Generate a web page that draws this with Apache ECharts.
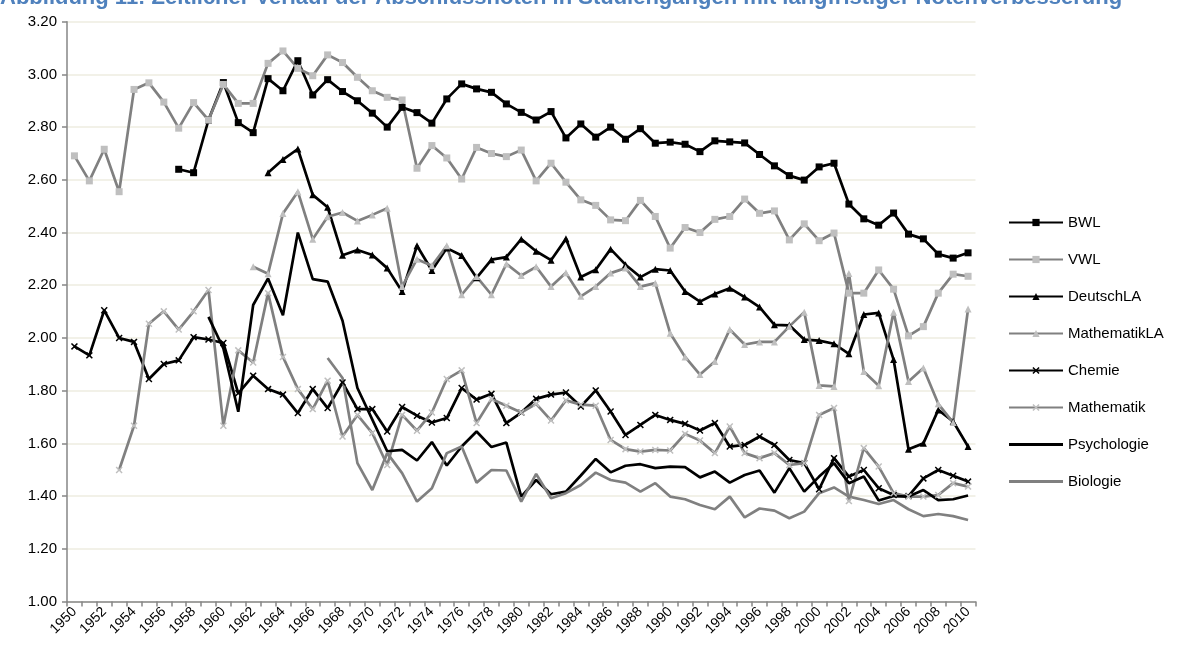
<!DOCTYPE html>
<html><head><meta charset="utf-8">
<script src="https://cdn.jsdelivr.net/npm/echarts@6/dist/echarts.min.js"></script>
<style>html,body{margin:0;padding:0;background:#fff}#c{width:1190px;height:653px}</style>
</head><body><div id="c"></div>
<script>
const titleText = 'Abbildung 11: Zeitlicher Verlauf der Abschlussnoten in Studiengängen mit langfristiger Notenverbesserung';
const years = [];
for (let y = 1950; y <= 2010; y++) years.push(String(y));

// each series: first year and values (one per year until 2010)
const bwlStart = 1957;
const bwl = [2.64,2.627,2.827,2.969,2.817,2.779,2.984,2.938,3.052,2.922,2.98,2.935,2.90,2.853,2.80,2.875,2.855,2.815,2.907,2.964,2.945,2.932,2.888,2.856,2.827,2.859,2.759,2.812,2.762,2.80,2.754,2.794,2.739,2.743,2.735,2.707,2.748,2.744,2.740,2.696,2.653,2.616,2.599,2.649,2.663,2.508,2.452,2.428,2.474,2.394,2.376,2.318,2.303,2.323];
const vwlStart = 1950;
const vwl = [2.691,2.596,2.716,2.555,2.943,2.968,2.895,2.796,2.893,2.827,2.962,2.89,2.89,3.042,3.089,3.023,2.995,3.074,3.045,2.989,2.938,2.913,2.903,2.644,2.73,2.683,2.603,2.723,2.70,2.688,2.713,2.596,2.663,2.591,2.524,2.503,2.448,2.445,2.522,2.461,2.341,2.419,2.40,2.45,2.461,2.527,2.473,2.482,2.372,2.433,2.369,2.398,2.17,2.17,2.258,2.185,2.008,2.043,2.17,2.242,2.234];
const deutschLAStart = 1963;
const deutschLA = [2.627,2.677,2.717,2.543,2.496,2.314,2.334,2.315,2.265,2.176,2.35,2.256,2.341,2.313,2.228,2.297,2.307,2.375,2.329,2.295,2.376,2.231,2.259,2.337,2.278,2.231,2.261,2.256,2.176,2.138,2.167,2.189,2.155,2.117,2.05,2.048,1.994,1.99,1.978,1.94,2.089,2.095,1.918,1.578,1.60,1.727,1.683,1.588];
const mathematikLAStart = 1962;
const mathematikLA = [2.27,2.244,2.472,2.555,2.375,2.46,2.476,2.444,2.467,2.492,2.195,2.299,2.274,2.35,2.164,2.233,2.164,2.281,2.237,2.27,2.195,2.247,2.158,2.195,2.246,2.265,2.195,2.208,2.018,1.928,1.861,1.911,2.032,1.975,1.985,1.985,2.044,2.098,1.82,1.816,2.245,1.873,1.819,2.098,1.835,1.886,1.75,1.679,2.11];
const chemieStart = 1950;
const chemie = [1.968,1.934,2.105,2.0,1.985,1.844,1.901,1.915,2.003,1.994,1.981,1.79,1.857,1.806,1.785,1.715,1.806,1.734,1.831,1.73,1.73,1.645,1.738,1.705,1.679,1.696,1.81,1.766,1.788,1.677,1.717,1.769,1.785,1.793,1.74,1.801,1.721,1.632,1.67,1.708,1.689,1.674,1.649,1.677,1.588,1.594,1.626,1.594,1.537,1.525,1.426,1.544,1.474,1.499,1.43,1.404,1.40,1.467,1.499,1.477,1.455];
const mathematikStart = 1953;
const mathematik = [1.499,1.667,2.054,2.101,2.032,2.101,2.182,1.667,1.953,1.907,2.17,1.928,1.806,1.73,1.838,1.626,1.708,1.639,1.518,1.708,1.648,1.717,1.844,1.877,1.677,1.768,1.743,1.717,1.75,1.687,1.763,1.747,1.743,1.613,1.578,1.569,1.575,1.573,1.636,1.611,1.563,1.664,1.563,1.544,1.563,1.518,1.525,1.708,1.734,1.381,1.582,1.512,1.411,1.398,1.398,1.404,1.449,1.436];
const psychologieStart = 1959;
const psychologie = [2.08,1.96,1.72,2.125,2.226,2.086,2.40,2.223,2.214,2.065,1.81,1.69,1.57,1.575,1.535,1.605,1.516,1.588,1.645,1.586,1.603,1.398,1.461,1.407,1.417,1.478,1.541,1.49,1.515,1.521,1.506,1.512,1.51,1.471,1.493,1.451,1.48,1.497,1.413,1.506,1.417,1.474,1.525,1.449,1.474,1.383,1.40,1.398,1.423,1.385,1.388,1.402];
const biologieStart = 1967;
const biologie = [1.924,1.848,1.525,1.423,1.563,1.487,1.379,1.43,1.563,1.588,1.451,1.499,1.497,1.379,1.484,1.392,1.411,1.442,1.489,1.461,1.451,1.417,1.449,1.398,1.388,1.366,1.35,1.398,1.319,1.353,1.345,1.316,1.341,1.411,1.433,1.398,1.385,1.37,1.385,1.35,1.324,1.332,1.324,1.309];

function pad(start, vals) { return new Array(start - 1950).fill(null).concat(vals); }

const xSym = 'path://M0,1.5L1.5,0L5,3.5L8.5,0L10,1.5L6.5,5L10,8.5L8.5,10L5,6.5L1.5,10L0,8.5L3.5,5Z';
const BLACK = '#000000', GRAY = '#808080', LIGHT = '#BFBFBF';

function mk(name, start, vals, lineColor, symbol, symColor, size) {
  return {
    name, type: 'line', data: pad(start, vals),
    symbol: symbol || 'none', symbolSize: size || 7, showSymbol: !!symbol,
    lineStyle: { color: lineColor, width: 2.7 },
    itemStyle: { color: symColor || lineColor, borderWidth: 0 },
    emphasis: { disabled: true }, animation: false, connectNulls: false
  };
}

const series = [
  mk('BWL', bwlStart, bwl, BLACK, 'rect', BLACK, 7),
  mk('VWL', vwlStart, vwl, GRAY, 'rect', LIGHT, 7),
  mk('DeutschLA', deutschLAStart, deutschLA, BLACK, 'triangle', BLACK, 7),
  mk('MathematikLA', mathematikLAStart, mathematikLA, GRAY, 'triangle', LIGHT, 7),
  mk('Chemie', chemieStart, chemie, BLACK, xSym, BLACK, 7),
  mk('Mathematik', mathematikStart, mathematik, GRAY, xSym, LIGHT, 7),
  mk('Psychologie', psychologieStart, psychologie, BLACK, null, BLACK),
  mk('Biologie', biologieStart, biologie, GRAY, null, GRAY)
];

const plainIcon = 'path://M0,0L54,0L54,2.8L0,2.8Z';
const legendData = series.map(s => s.symbol === 'none'
  ? { name: s.name, icon: plainIcon, itemStyle: { color: s.lineStyle.color } }
  : { name: s.name });

const chart = echarts.init(document.getElementById('c'), null, { renderer: 'canvas' });
chart.setOption({
  animation: false,
  backgroundColor: '#fff',
  textStyle: { fontFamily: 'Liberation Sans, Arial, sans-serif' },
  graphic: [{
    type: 'text', left: 0, top: -13,
    style: { text: titleText, font: 'bold 22px "Liberation Sans", Arial, sans-serif', fill: '#4F81BD' }
  }],
  grid: { left: 67, right: 214.5, top: 21.7, bottom: 51.5, containLabel: false },
  legend: {
    orient: 'vertical', left: 1003, top: 210,
    itemWidth: 54, itemHeight: 9, itemGap: 22,
    textStyle: { fontSize: 15, color: '#000', fontFamily: 'Liberation Sans, Arial, sans-serif' },
    data: legendData
  },
  xAxis: {
    type: 'category', data: years, boundaryGap: true,
    axisLine: { lineStyle: { color: '#868686', width: 1.5 } },
    axisTick: { show: true, interval: 0, length: 5, lineStyle: { color: '#868686', width: 1.5 } },
    axisLabel: { interval: 1, rotate: 45, fontSize: 14, color: '#000', margin: 8 },
    splitLine: { show: false }
  },
  yAxis: {
    type: 'value', min: 1, max: 3.2, interval: 0.2,
    axisLine: { show: true, lineStyle: { color: '#868686', width: 1.5 } },
    axisTick: { show: true, length: 5, lineStyle: { color: '#868686', width: 1.5 } },
    axisLabel: { fontSize: 15, color: '#000', margin: 10, formatter: v => v.toFixed(2) },
    splitLine: { show: true, lineStyle: { color: '#EEECE1', width: 1.5 } }
  },
  series
});
</script></body></html>
